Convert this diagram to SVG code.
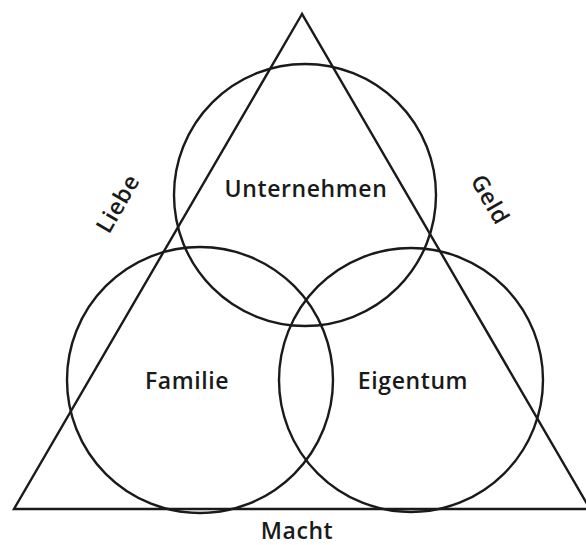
<svg xmlns="http://www.w3.org/2000/svg" width="586" height="545" viewBox="0 0 586 545">
<style>
.s{fill:none;stroke:#1a1a1a;stroke-width:2.4}
text{font-family:"Open Sans","DejaVu Sans",sans-serif;font-size:23px;font-weight:600;letter-spacing:0.6px;fill:#1a1a1a;text-anchor:middle;dominant-baseline:central}
</style>
<rect width="586" height="545" fill="#fff"/>
<g id="connectors">
<polygon id="triangle" class="s" points="302,14 14,509 590,509"/>
</g>
<g id="unternehmen"><circle class="s" cx="305" cy="195" r="131"/><text x="306" y="188">Unternehmen</text></g>
<g id="familie"><circle class="s" cx="200" cy="380" r="133"/><text x="187" y="380">Familie</text></g>
<g id="eigentum"><circle class="s" cx="411" cy="380" r="132"/><text x="413" y="380">Eigentum</text></g>
<g id="liebe"><text transform="translate(117,203) rotate(-60)">Liebe</text></g>
<g id="geld"><text transform="translate(491,199) rotate(60)">Geld</text></g>
<g id="macht"><text x="297" y="530">Macht</text></g>
</svg>
